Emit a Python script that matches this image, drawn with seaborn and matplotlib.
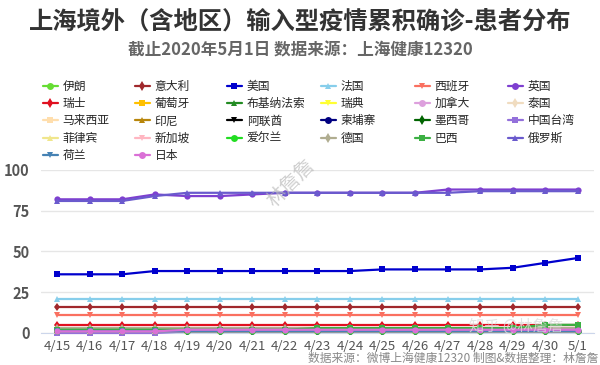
import matplotlib
matplotlib.use("Agg")
import matplotlib.pyplot as plt
import seaborn as sns
import pandas as pd
from matplotlib.lines import Line2D

sns.set_style("white")
plt.rcParams['font.family'] = ['Noto Sans CJK SC', 'DejaVu Sans']

dates = ["4/15", "4/16", "4/17", "4/18", "4/19", "4/20", "4/21", "4/22", "4/23",
         "4/24", "4/25", "4/26", "4/27", "4/28", "4/29", "4/30", "5/1"]

countries = ["伊朗", "意大利", "美国", "法国", "西班牙", "英国",
             "瑞士", "葡萄牙", "布基纳法索", "瑞典", "加拿大", "泰国",
             "马来西亚", "印尼", "阿联酋", "柬埔寨", "墨西哥", "中国台湾",
             "菲律宾", "新加坡", "爱尔兰", "德国", "巴西", "俄罗斯",
             "荷兰", "日本"]

v_iran = [1] * 17
v_italy = [16] * 17
v_usa = [36, 36, 36, 38, 38, 38, 38, 38, 38, 38, 39, 39, 39, 39, 40, 43, 46]
v_france = [21] * 17
v_spain = [11] * 17
v_uk = [82, 82, 82, 85, 84, 84, 85, 86, 86, 86, 86, 86, 88, 88, 88, 88, 88]
v_swiss = [5] * 17
v_portugal = [1] * 17
v_burkina = [1] * 17
v_sweden = [1] * 17
v_canada = [1] * 17
v_thailand = [1] * 17
v_malaysia = [1] * 17
v_indonesia = [1] * 17
v_uae = [1] * 17
v_cambodia = [1] * 17
v_mexico = [1] * 17
v_taiwan = [0, 0, 0, 0, 1, 1, 1, 1, 1, 1, 1, 1, 1, 1, 1, 1, 1]
v_philippines = [1] * 17
v_singapore = [1] * 17
v_ireland = [1] * 17
v_germany = [3] * 17
v_brazil = [2, 2, 2, 2, 2, 2, 2, 2, 3, 3, 3, 3, 3, 3, 3, 5, 5]
v_russia = [81, 81, 81, 84, 86, 86, 86, 86, 86, 86, 86, 86, 86, 87, 87, 87, 87]
v_netherlands = [1] * 17
v_japan = [1, 1, 1, 1, 2, 2, 2, 2, 2, 2, 2, 2, 2, 2, 2, 2, 2]

series = [v_iran, v_italy, v_usa, v_france, v_spain, v_uk,
          v_swiss, v_portugal, v_burkina, v_sweden, v_canada, v_thailand,
          v_malaysia, v_indonesia, v_uae, v_cambodia, v_mexico, v_taiwan,
          v_philippines, v_singapore, v_ireland, v_germany, v_brazil, v_russia,
          v_netherlands, v_japan]

colors = ["#66dd33", "#a0282c", "#0000cd", "#87ceeb", "#fa7060", "#7e3fd0",
          "#e01020", "#ffc000", "#228b22", "#ffff33", "#dda0dd", "#f0dcc0",
          "#ffdead", "#b8860b", "#000000", "#000080", "#006400", "#9370db",
          "#f0e68c", "#ffb6c1", "#22dd22", "#b0ad90", "#3cb043", "#6a5acd",
          "#4682b4", "#da70d6"]
marker_cycle = ["o", "d", "s", "^", "v"]

rows = []
for name, vals in zip(countries, series):
    for d, v in zip(dates, vals):
        rows.append({"date": d, "value": v, "country": name})
df = pd.DataFrame(rows)

fig = plt.figure(figsize=(6.0, 3.65), dpi=100)
ax = fig.add_axes([0.068, 0.0877, 0.922, 0.4466])

for i, name in enumerate(countries):
    sub = df[df["country"] == name]
    sns.lineplot(data=sub, x="date", y="value", color=colors[i],
                 marker=marker_cycle[i % 5], markersize=4.5, linewidth=1.6,
                 markeredgewidth=0, ax=ax, sort=False, legend=False,
                 clip_on=False, zorder=3 + i * 0.01)

ax.set_xlim(-0.5, len(dates) - 0.5)
ax.set_ylim(0, 100)
ax.set_yticks([0, 25, 50, 75, 100])
ax.set_xticks(range(len(dates)))
ax.set_xticklabels(dates)
ax.set_xlabel("")
ax.set_ylabel("")
ax.grid(axis="y", color="#e6e6e6", linewidth=1)
ax.set_axisbelow(True)
for s in ["top", "right", "left"]:
    ax.spines[s].set_visible(False)
ax.spines["bottom"].set_color("#ccd6eb")
ax.tick_params(axis="x", which="major", length=0, labelsize=9.5,
               labelcolor="#555555", pad=5)
ax.set_xticks([x - 0.5 for x in range(len(dates) + 1)], minor=True)
ax.tick_params(axis="x", which="minor", length=6, color="#ccd6eb")
ax.tick_params(axis="y", length=0, labelsize=10.5, labelcolor="#555555", pad=8)
for lab in ax.get_yticklabels():
    lab.set_fontweight("bold")

# legend: 6 columns placed at fixed x positions, filled row by row
handles = []
for i, name in enumerate(countries):
    handles.append(Line2D([0], [0], color=colors[i], marker=marker_cycle[i % 5],
                          markersize=5, linewidth=1.6, markeredgewidth=0,
                          label=name))
col_x = [50, 142, 234, 328, 422, 515]
for j, mx in enumerate(col_x):
    idx = [r * 6 + j for r in range(5) if r * 6 + j < len(countries)]
    fig.legend([handles[k] for k in idx], [countries[k] for k in idx],
               loc="upper left", bbox_to_anchor=((mx - 7.5) / 600, 0.781),
               frameon=False, fontsize=8.5, handlelength=1.3, handletextpad=0.4,
               labelspacing=0.36, borderaxespad=0, borderpad=0)

fig.text(0.5, 0.94, "上海境外（含地区）输入型疫情累积确诊-患者分布",
         ha="center", va="center", fontsize=17.5, fontweight="bold", color="#333333")
fig.text(0.5, 0.862, "截止2020年5月1日 数据来源：上海健康12320",
         ha="center", va="center", fontsize=12, fontweight="bold", color="#666666")
fig.text(0.997, 0.0, "数据来源：微博上海健康12320 制图&数据整理：林詹詹",
         ha="right", va="bottom", fontsize=8.5, color="#888888")
fig.text(0.485, 0.50, "林詹詹", ha="center", va="center", fontsize=14,
         color="#bbbbbb", alpha=0.7, rotation=45)
fig.text(0.86, 0.105, "知乎 @林詹詹", ha="center", va="center", fontsize=11,
         color="#dddddd", alpha=0.8)

fig.savefig("out.png", dpi=100)
